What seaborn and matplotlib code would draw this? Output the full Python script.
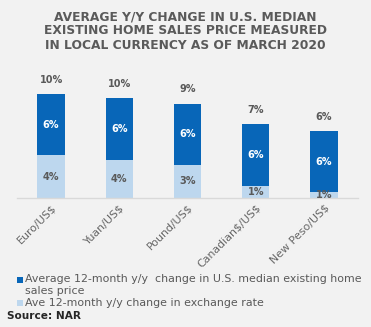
import matplotlib
matplotlib.use("Agg")
import matplotlib.pyplot as plt
import seaborn as sns
import pandas as pd
from matplotlib.patches import Rectangle

# Currency pairs and average 12-month y/y changes (percent)
pairs = ["Euro/US$", "Yuan/US$", "Pound/US$", "Canadian$/US$", "New Peso/US$"]
price_change = [5.9, 5.9, 5.9, 5.9, 5.9]
fx_change = [4.1, 3.7, 3.2, 1.2, 0.55]
total_change = [p + f for p, f in zip(price_change, fx_change)]
legend_labels = [
    "Average 12-month y/y  change in U.S. median existing home\nsales price",
    "Ave 12-month y/y change in exchange rate",
]

df = pd.DataFrame({"pair": pairs, "price": price_change,
                   "fx": fx_change, "total": total_change})

sns.set_theme(style="white")
plt.rcParams["font.family"] = ["DejaVu Sans"]
plt.rcParams["text.parse_math"] = False

BG = "#f2f2f2"
DARK = "#0866b8"
LIGHT = "#bdd7ee"
GRAY = "#595959"
W, H = 371, 327

fig = plt.figure(figsize=(W / 100, H / 100), dpi=100, facecolor=BG)
ax = fig.add_axes([17 / W, 1 - 198 / H, 341 / W, 125 / H])
ax.set_facecolor(BG)

sns.barplot(data=df, x="pair", y="total", color=DARK, saturation=1,
            width=0.4, ax=ax, linewidth=0)
sns.barplot(data=df, x="pair", y="fx", color=LIGHT, saturation=1,
            width=0.4, ax=ax, linewidth=0)

ax.set_xlim(-0.5, 4.5)
ax.set_ylim(0, 12.05)
ax.set_xlabel("")
ax.set_ylabel("")
ax.set_yticks([])
for s in ["top", "left", "right"]:
    ax.spines[s].set_visible(False)
ax.spines["bottom"].set_color("#d9d9d9")
ax.spines["bottom"].set_linewidth(1.0)
ax.tick_params(axis="x", length=0, pad=3)
ax.set_xticks(range(len(pairs)))
ax.set_xticklabels(pairs, rotation=45, ha="right", rotation_mode="anchor",
                   fontsize=7.9, color="#666666")

for i, (p, f, t) in enumerate(zip(price_change, fx_change, total_change)):
    ax.text(i, f + p / 2, f"{p:.0f}%", ha="center", va="center",
            color="white", fontsize=7, fontweight="bold")
    ax.text(i, f / 2, f"{f:.0f}%", ha="center", va="center",
            color=GRAY, fontsize=7, fontweight="bold")
    ax.text(i, t + 1.4, f"{t:.0f}%", ha="center", va="center",
            color=GRAY, fontsize=7, fontweight="bold")

fig.text(0.5, 1 - 31 / H,
         "AVERAGE Y/Y CHANGE IN U.S. MEDIAN\nEXISTING HOME SALES PRICE MEASURED\nIN LOCAL CURRENCY AS OF MARCH 2020",
         ha="center", va="center", fontsize=8.8, fontweight="bold",
         color="#5a5a5a", linespacing=1.12)

# Legend: square swatches with text, first entry wraps onto two lines
for color, label, y_mid in [(DARK, legend_labels[0], 280),
                            (LIGHT, legend_labels[1], 303)]:
    fig.add_artist(Rectangle((17 / W, 1 - (y_mid + 3) / H), 6 / W, 6 / H,
                             transform=fig.transFigure, color=color, lw=0))
    fig.text(25 / W, 1 - (y_mid - 5.5) / H, label, ha="left", va="top",
             fontsize=7.9, color=GRAY, linespacing=1.2)

fig.text(7 / W, 1 - 316 / H, "Source: NAR", ha="left", va="center",
         fontsize=7.6, fontweight="bold", color="#262626")

fig.savefig("out.png", dpi=100, facecolor=BG)
